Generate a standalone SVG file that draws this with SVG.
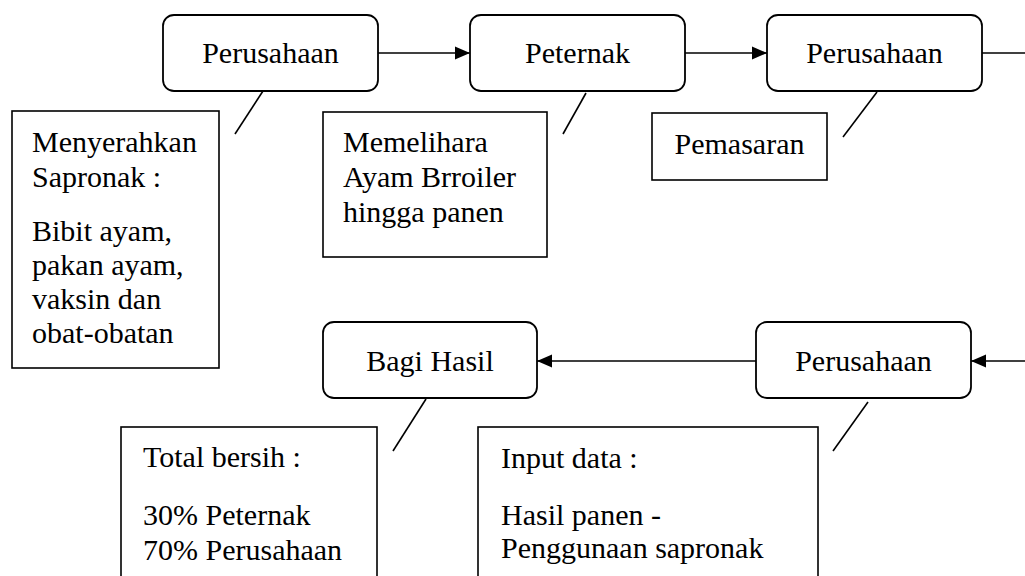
<svg xmlns="http://www.w3.org/2000/svg" width="1025" height="576" viewBox="0 0 1025 576">
<defs>
<style>
.node{fill:#fff;stroke:#000;stroke-width:1.8}
.box{fill:#fff;stroke:#000;stroke-width:1.6}
.t{font-family:"Liberation Serif","Times New Roman",serif;font-size:30px;fill:#000}
.c{text-anchor:middle}
.ln{stroke:#000;stroke-width:1.6;fill:none}
</style>
<marker id="ah" markerUnits="userSpaceOnUse" markerWidth="16" markerHeight="14" refX="15" refY="7" orient="auto">
<path d="M0,0.5 L15,7 L0,13.5 z" fill="#000"/>
</marker>
</defs>
<rect width="1025" height="576" fill="#fff"/>
<g id="connectors">
<line class="ln" x1="378" y1="53" x2="470" y2="53" marker-end="url(#ah)"/>
<line class="ln" x1="685" y1="53" x2="767" y2="53" marker-end="url(#ah)"/>
<line class="ln" x1="982" y1="53" x2="1025" y2="53"/>
<line class="ln" x1="1025" y1="361" x2="971" y2="361" marker-end="url(#ah)"/>
<line class="ln" x1="756" y1="361" x2="537" y2="361" marker-end="url(#ah)"/>
<line class="ln" x1="263" y1="91" x2="235" y2="134"/>
<line class="ln" x1="586" y1="93" x2="563" y2="134"/>
<line class="ln" x1="877" y1="92" x2="843" y2="137"/>
<line class="ln" x1="426" y1="399" x2="393" y2="451"/>
<line class="ln" x1="868" y1="402" x2="833" y2="451"/>
</g>
<g id="n-perusahaan1">
<rect class="node" x="163" y="15" width="215" height="76" rx="11"/>
<text class="t c" x="270.5" y="63">Perusahaan</text>
</g>
<g id="n-peternak">
<rect class="node" x="470" y="15" width="215" height="76" rx="11"/>
<text class="t c" x="577.5" y="63">Peternak</text>
</g>
<g id="n-perusahaan2">
<rect class="node" x="767" y="15" width="215" height="76" rx="11"/>
<text class="t c" x="874.5" y="63">Perusahaan</text>
</g>
<g id="n-bagihasil">
<rect class="node" x="323" y="322" width="214" height="76" rx="11"/>
<text class="t c" x="430" y="371">Bagi Hasil</text>
</g>
<g id="n-perusahaan3">
<rect class="node" x="756" y="322" width="215" height="76" rx="11"/>
<text class="t c" x="863.5" y="371">Perusahaan</text>
</g>
<g id="b-menyerahkan">
<rect class="box" x="12" y="111" width="207" height="257"/>
<text class="t" x="32" y="152">Menyerahkan</text>
<text class="t" x="32" y="187">Sapronak :</text>
<text class="t" x="32" y="241">Bibit ayam,</text>
<text class="t" x="32" y="275">pakan ayam,</text>
<text class="t" x="32" y="309">vaksin dan</text>
<text class="t" x="32" y="343">obat-obatan</text>
</g>
<g id="b-memelihara">
<rect class="box" x="323" y="112" width="224" height="145"/>
<text class="t" x="343" y="152">Memelihara</text>
<text class="t" x="343" y="187">Ayam Brroiler</text>
<text class="t" x="343" y="222">hingga panen</text>
</g>
<g id="b-pemasaran">
<rect class="box" x="652" y="113" width="175" height="67"/>
<text class="t c" x="739.5" y="154">Pemasaran</text>
</g>
<g id="b-total">
<rect class="box" x="121" y="427" width="256" height="160"/>
<text class="t" x="143" y="467">Total bersih :</text>
<text class="t" x="143" y="525">30% Peternak</text>
<text class="t" x="143" y="560">70% Perusahaan</text>
</g>
<g id="b-input">
<rect class="box" x="478" y="427" width="340" height="160"/>
<text class="t" x="501" y="468">Input data :</text>
<text class="t" x="501" y="525">Hasil panen -</text>
<text class="t" x="501" y="558">Penggunaan sapronak</text>
</g>
</svg>
